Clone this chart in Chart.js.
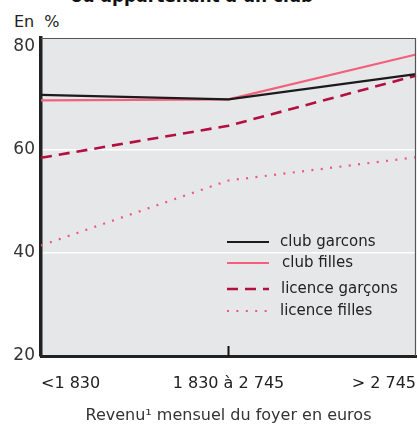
<!DOCTYPE html>
<html>
<head>
<meta charset="utf-8">
<script src="https://cdn.jsdelivr.net/npm/chart.js@4.4.1/dist/chart.umd.min.js"></script>
<style>
  html, body { margin: 0; padding: 0; background: #fff; }
  #wrap { position: relative; width: 418px; height: 425px; overflow: hidden; }
  #title { position: absolute; left: 0; width: 384px; top: -12px; text-align: center;
           font: bold 17px "DejaVu Sans", sans-serif; line-height: 17px; color: #111; white-space: nowrap; }
  #unit { position: absolute; left: 14px; top: 12px; font: 16px "DejaVu Sans", sans-serif;
          color: #222; word-spacing: 5px; }
  canvas { position: absolute; left: 0; top: 0; }
</style>
</head>
<body>
<div id="wrap">
  <div id="title">ou appartenant à un club</div>
  <div id="unit">En %</div>
  <canvas id="c" width="418" height="425"></canvas>
</div>
<script>
const categories = ["<1 830", "1 830 à 2 745", "> 2 745"];
const seriesNames = ["club garcons", "club filles", "licence garçons", "licence filles"];
const clubGarcons = [70.6, 69.7, 74.6];
const clubFilles = [69.5, 69.7, 78.4];
const licenceGarcons = [58.4, 64.6, 74.3];
const licenceFilles = [41.4, 54.0, 58.5];
const yTicks = [20, 40, 60, 80];
const xTitle = "Revenu\u00B9 mensuel du foyer en euros";

const bgPlugin = {
  id: 'bg',
  beforeDraw(chart) {
    const { ctx, chartArea: a } = chart;
    ctx.save();
    ctx.fillStyle = '#e6e7e9';
    ctx.fillRect(a.left, a.top, a.right - a.left, a.bottom - a.top);
    ctx.restore();
  },
  afterDatasetsDraw(chart) {
    const { ctx, chartArea: a, scales } = chart;
    ctx.save();
    ctx.strokeStyle = '#555';
    ctx.lineWidth = 1.2;
    ctx.beginPath();
    ctx.moveTo(a.left, a.top + 0.5);
    ctx.lineTo(a.right - 0.5, a.top + 0.5);
    ctx.lineTo(a.right - 0.5, a.bottom);
    ctx.stroke();
    // middle tick mark
    const xm = scales.x.getPixelForValue(1);
    ctx.strokeStyle = '#111';
    ctx.lineWidth = 2;
    ctx.beginPath();
    ctx.moveTo(xm, a.bottom);
    ctx.lineTo(xm, a.bottom - 10);
    ctx.stroke();
    // legend
    const rows = [242, 263, 289, 311];
    const textX = [280, 282, 281, 280];
    ctx.font = '15px "DejaVu Sans", sans-serif';
    ctx.textBaseline = 'middle';
    ctx.fillStyle = '#222';
    chart.data.datasets.forEach((ds, i) => {
      ctx.save();
      ctx.strokeStyle = ds.borderColor;
      ctx.lineWidth = ds.borderWidth;
      ctx.setLineDash(ds.borderDash || []);
      ctx.beginPath();
      ctx.moveTo(227, rows[i]);
      ctx.lineTo(269, rows[i]);
      ctx.stroke();
      ctx.restore();
      ctx.fillText(ds.label, textX[i], rows[i]);
    });
    ctx.restore();
  }
};

new Chart(document.getElementById('c'), {
  type: 'line',
  data: {
    labels: categories,
    datasets: [
      { label: seriesNames[0], data: clubGarcons, borderColor: '#1c1a1b', borderWidth: 2.2, pointRadius: 0, tension: 0 },
      { label: seriesNames[1], data: clubFilles, borderColor: '#f2607c', borderWidth: 2.2, pointRadius: 0, tension: 0 },
      { label: seriesNames[2], data: licenceGarcons, borderColor: '#b30f3f', borderWidth: 2.6, borderDash: [11, 7], pointRadius: 0, tension: 0 },
      { label: seriesNames[3], data: licenceFilles, borderColor: '#f0577a', borderWidth: 2.2, borderDash: [2, 7.4], pointRadius: 0, tension: 0 }
    ]
  },
  options: {
    responsive: false,
    animation: false,
    layout: { padding: { top: 38, right: 2, left: 0, bottom: 0 } },
    plugins: { legend: { display: false }, tooltip: { enabled: false } },
    scales: {
      x: {
        offset: false,
        grid: { display: false, drawTicks: false },
        border: { display: true, color: '#222', width: 3 },
        ticks: { color: '#222', font: { family: 'DejaVu Sans', size: 16 }, padding: 18, maxRotation: 0, autoSkip: false,
                 align: 'inner' },
        title: { display: true, text: xTitle, color: '#333', font: { family: 'DejaVu Sans', size: 16 }, padding: { top: 12, bottom: 0 } },
        afterFit(s) { s.height = 69; s.paddingLeft = 0; s.paddingRight = 0; }
      },
      y: {
        min: 20, max: 81.6,
        afterBuildTicks(s) { s.ticks = yTicks.map(v => ({ value: v })); },
        grid: { drawTicks: false, color: c => (c.tick && (c.tick.value === 40 || c.tick.value === 60)) ? '#ffffff' : 'rgba(0,0,0,0)', lineWidth: 1.5 },
        border: { display: true, color: '#222', width: 3.5 },
        ticks: { color: '#333', font: { family: 'DejaVu Sans', size: 17 }, padding: 6 },
        afterFit(s) { s.width = 41; s.paddingTop = 0; s.paddingBottom = 0; }
      }
    }
  },
  plugins: [bgPlugin]
});
</script>
</body>
</html>
